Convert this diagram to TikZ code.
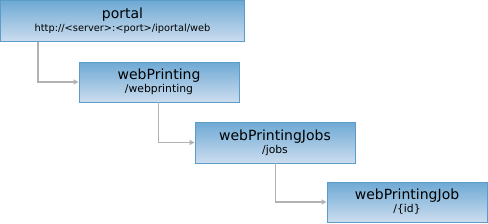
\documentclass[tikz,border=0pt]{standalone}
\usepackage{fontspec}
\setmainfont{DejaVu Sans}
\usetikzlibrary{arrows.meta}
\definecolor{boxtop}{HTML}{6EA9D4}
\definecolor{boxbot}{HTML}{CCDDEF}
\definecolor{boxline}{HTML}{5C9CC9}
\definecolor{linkgray}{HTML}{B2B2B2}
\begin{document}
\begin{tikzpicture}[x=1pt,y=1pt,
  resbox/.style={draw=boxline,line width=0.9pt,top color=boxtop,bottom color=boxbot,
    minimum width=160pt,minimum height=40pt,align=center,inner sep=0pt,
    font=\fontsize{14}{15}\selectfont},
  link/.style={-{Triangle[length=5pt,width=5pt]},draw=linkgray,line width=1.4pt}]
  \useasboundingbox (0,0) rectangle (488,-223);
  % resources
  \node[resbox,minimum width=244pt,minimum height=41pt] (portal) at (122.5,-21)
    {portal\\[-2pt]{\fontsize{9.8}{11}\selectfont http://<server>:<port>/iportal/web}};
  \node[resbox] (printing) at (159,-82)
    {webPrinting\\[-2pt]{\fontsize{10.8}{11}\selectfont /webprinting}};
  \node[resbox,minimum height=41pt] (jobs) at (275,-142.5)
    {webPrintingJobs\\[-2pt]{\fontsize{10.8}{11}\selectfont /jobs}};
  \node[resbox] (job) at (407,-202)
    {webPrintingJob\\[-2pt]{\fontsize{10.8}{11}\selectfont /\{id\}}};
  % links
  \draw[link] ([xshift=38pt]portal.south west) |- (printing.west);
  \draw[link] ([xshift=80pt]printing.south west) |- (jobs.west);
  \draw[link] ([xshift=81pt]jobs.south west) |- (job.west);
\end{tikzpicture}
\end{document}
